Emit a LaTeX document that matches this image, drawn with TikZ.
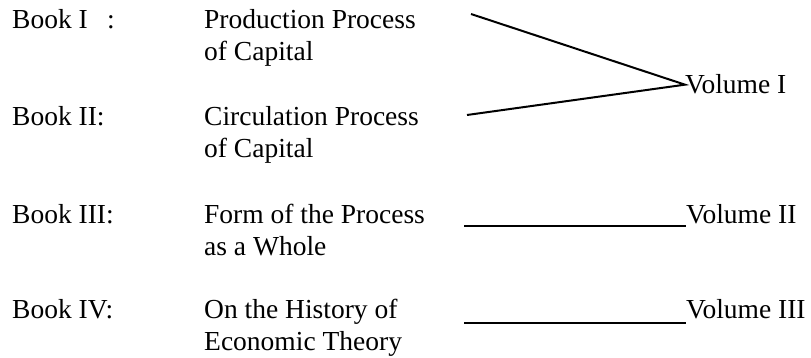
\documentclass[tikz,border=0pt]{standalone}
\usepackage{fontspec}
\setmainfont{Liberation Serif}
\usepackage{tikz}
\usetikzlibrary{positioning, calc}

\tikzset{
    booklabel/.style={anchor=base west, inner sep=0pt, font=\fontsize{27.5}{32}\selectfont},
    booktitle/.style={anchor=base west, inner sep=0pt, align=left, font=\fontsize{27.5}{32}\selectfont},
    volumelabel/.style={anchor=base west, inner sep=0pt, font=\fontsize{27.5}{32}\selectfont},
    joinline/.style={line width=2pt}
}

\begin{document}
\begin{tikzpicture}[x=1pt, y=-1pt]
    \useasboundingbox (0,0) rectangle (811,358);

    % books
    \node[booklabel] (book1) at (12,29) {Book I\hspace{0.7em}:};
    \node[booklabel] (book2) at (12,126) {Book II:};
    \node[booklabel] (book3) at (12,223) {Book III:};
    \node[booklabel] (book4) at (12,318) {Book IV:};

    % base of a two-line title is its last line
    \node[booktitle] (title1) at (204,61) {Production Process\\of Capital};
    \node[booktitle] (title2) at (204,158) {Circulation Process\\of Capital};
    \node[booktitle] (title3) at (204,255) {Form of the Process\\as a Whole};
    \node[booktitle] (title4) at (204,350) {On the History of\\Economic Theory};

    % volumes
    \node[volumelabel] (vol1) at (685,94) {Volume I};
    \node[volumelabel] (vol2) at (686,223) {Volume II};
    \node[volumelabel] (vol3) at (686,318) {Volume III};

    \coordinate (top1) at (471,14);
    \coordinate (bot1) at (467,115);
    \coordinate (start2) at (464,226);
    \coordinate (start3) at (464,323);

    \draw[joinline] (top1) -- (vol1.west) -- (bot1);
    \draw[joinline] (start2) -- (start2 -| vol2.west);
    \draw[joinline] (start3) -- (start3 -| vol3.west);
\end{tikzpicture}
\end{document}
